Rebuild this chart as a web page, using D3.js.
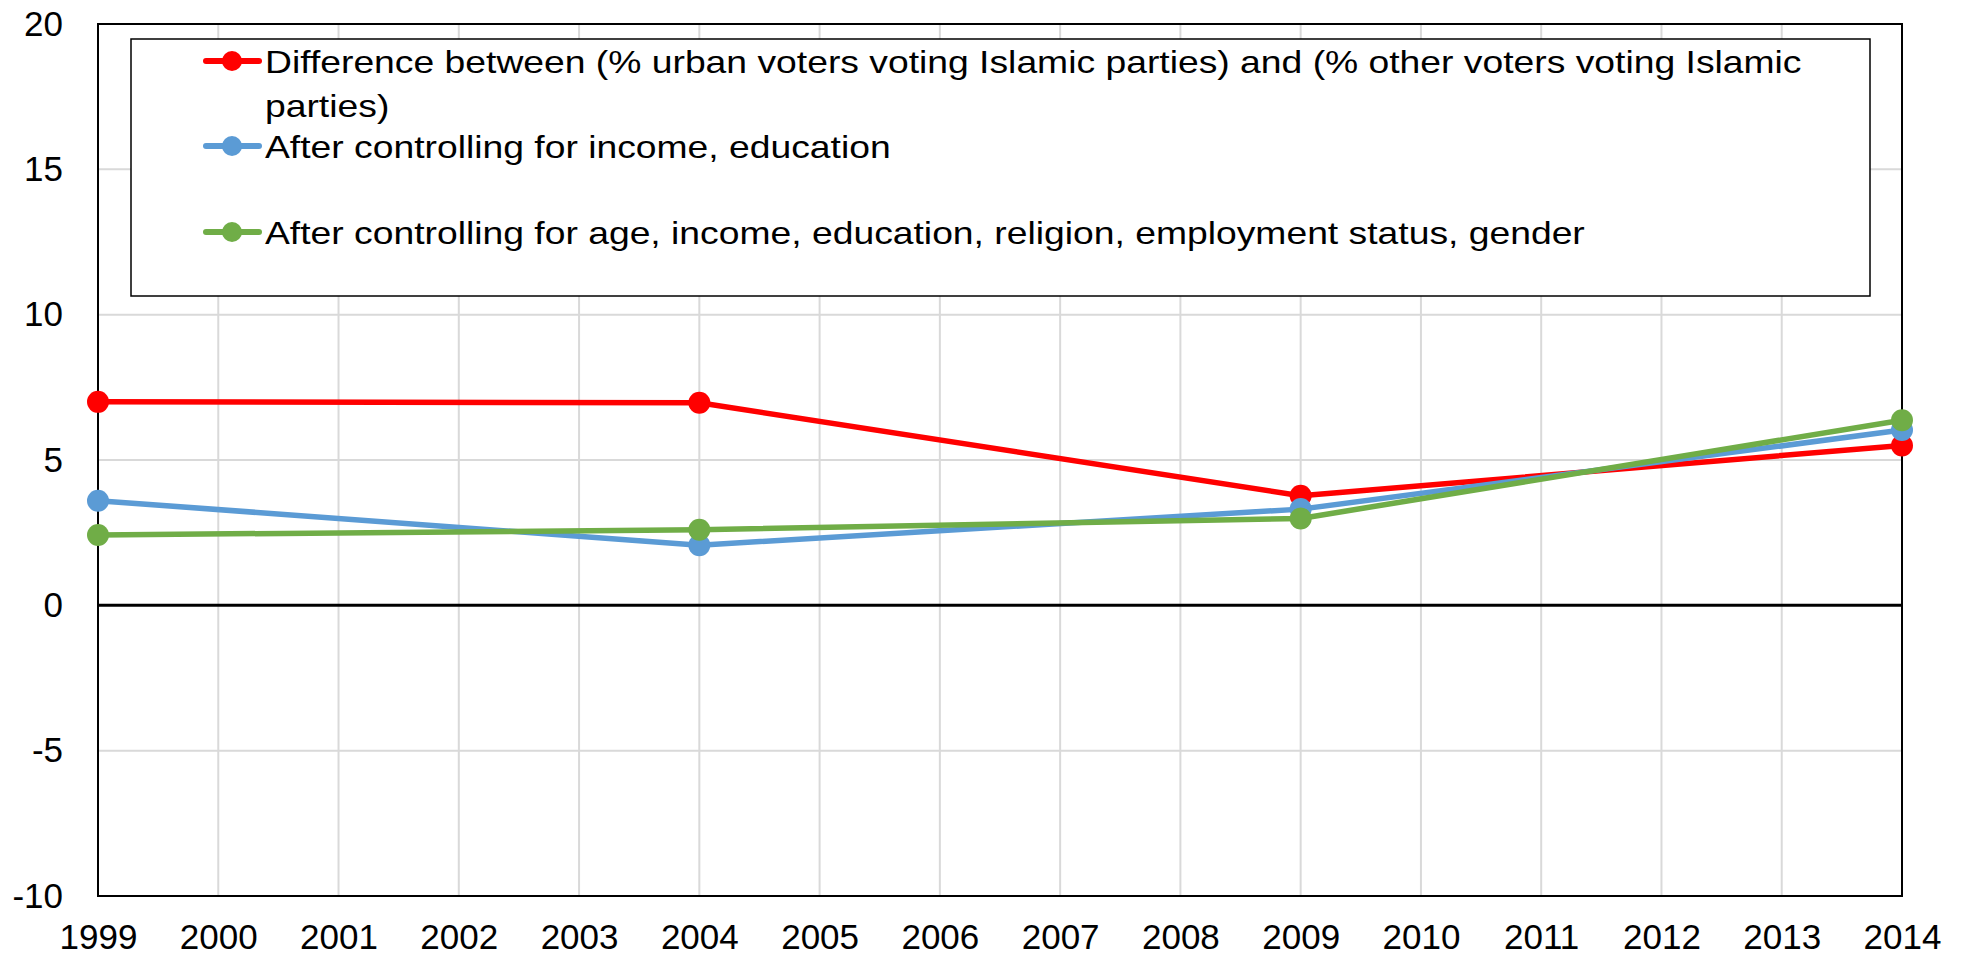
<!DOCTYPE html>
<html>
<head>
<meta charset="utf-8">
<script src="https://cdn.jsdelivr.net/npm/d3@7"></script>
<style>
  html, body { margin: 0; padding: 0; background: #fff; }
  svg { display: block; font-family: "Liberation Sans", Arial, sans-serif; }
</style>
</head>
<body>
<svg id="chart" width="1966" height="958"></svg>
<script>
// ---- data ----
const years = [1999, 2004, 2009, 2014];
const diffValues = [7.0, 6.97, 3.77, 5.5];
const incomeEduValues = [3.6, 2.07, 3.31, 6.03];
const allControlsValues = [2.42, 2.6, 2.99, 6.37];
const xTickYears = d3.range(1999, 2015);
const yTicks = [-10, -5, 0, 5, 10, 15, 20];
const seriesNames = [
  ["Difference between (% urban voters voting Islamic parties) and (% other voters voting Islamic", "parties)"],
  ["After controlling for income, education"],
  ["After controlling for age, income, education, religion, employment status, gender"]
];
const seriesColors = ["#ff0000", "#5b9bd5", "#70ad47"];
const seriesValues = [diffValues, incomeEduValues, allControlsValues];

// ---- layout ----
const svg = d3.select("#chart");
const plot = { left: 98, right: 1902, top: 24, bottom: 896 };
const x = d3.scaleLinear().domain([1999, 2014]).range([plot.left, plot.right]);
const y = d3.scaleLinear().domain([-10, 20]).range([plot.bottom, plot.top]);

// gridlines
const grid = svg.append("g");
grid.selectAll("line.v").data(xTickYears.slice(1, -1)).join("line")
  .attr("x1", d => x(d)).attr("x2", d => x(d))
  .attr("y1", plot.top).attr("y2", plot.bottom)
  .attr("stroke", "#d9d9d9").attr("stroke-width", 2);
grid.selectAll("line.h").data(yTicks.filter(d => d !== 0 && d !== -10 && d !== 20)).join("line")
  .attr("x1", plot.left).attr("x2", plot.right)
  .attr("y1", d => y(d)).attr("y2", d => y(d))
  .attr("stroke", "#d9d9d9").attr("stroke-width", 2);

// plot border
svg.append("rect")
  .attr("x", plot.left).attr("y", plot.top)
  .attr("width", plot.right - plot.left).attr("height", plot.bottom - plot.top)
  .attr("fill", "none").attr("stroke", "#000").attr("stroke-width", 2);

// zero line
svg.append("line")
  .attr("x1", plot.left).attr("x2", plot.right)
  .attr("y1", y(0)).attr("y2", y(0))
  .attr("stroke", "#000").attr("stroke-width", 3);

// axes (labels only)
const yAxis = d3.axisLeft(y).tickValues(yTicks).tickFormat(d => String(d)).tickSize(0).tickPadding(35);
const gy = svg.append("g").attr("transform", `translate(${plot.left},0)`).call(yAxis);
gy.select(".domain").remove();
gy.selectAll("text").attr("font-size", 35).attr("fill", "#000")
  .attr("font-family", "Liberation Sans, Arial, sans-serif");

const xAxis = d3.axisBottom(x).tickValues(xTickYears).tickFormat(d => String(d)).tickSize(0).tickPadding(28);
const gx = svg.append("g").attr("transform", `translate(0,${plot.bottom})`).call(xAxis);
gx.select(".domain").remove();
gx.selectAll("text").attr("font-size", 35).attr("fill", "#000")
  .attr("font-family", "Liberation Sans, Arial, sans-serif");

// series
const line = d3.line().x((d, i) => x(years[i])).y(d => y(d));
seriesValues.forEach((vals, s) => {
  const g = svg.append("g");
  g.append("path").datum(vals).attr("d", line)
    .attr("fill", "none").attr("stroke", seriesColors[s])
    .attr("stroke-width", 5.5).attr("stroke-linejoin", "round");
  g.selectAll("circle").data(vals).join("circle")
    .attr("cx", (d, i) => x(years[i])).attr("cy", d => y(d))
    .attr("r", 11).attr("fill", seriesColors[s]);
});

// legend
const legend = { left: 131, top: 39, right: 1870, bottom: 296 };
svg.append("rect")
  .attr("x", legend.left).attr("y", legend.top)
  .attr("width", legend.right - legend.left).attr("height", legend.bottom - legend.top)
  .attr("fill", "#fff").attr("stroke", "#000").attr("stroke-width", 1.5);
const rowY = [61, 146, 232];
const stretch = 1.165;
seriesNames.forEach((lines, s) => {
  const g = svg.append("g");
  g.append("line").attr("x1", 206).attr("x2", 259).attr("y1", rowY[s]).attr("y2", rowY[s])
    .attr("stroke", seriesColors[s]).attr("stroke-width", 6).attr("stroke-linecap", "round");
  g.append("circle").attr("cx", 232).attr("cy", rowY[s]).attr("r", 10).attr("fill", seriesColors[s]);
  lines.forEach((t, k) => {
    g.append("text")
      .attr("transform", `translate(265,${rowY[s] + 12 + k * 44}) scale(${stretch},1)`)
      .attr("font-size", 32).attr("fill", "#000").text(t);
  });
});
</script>
</body>
</html>
